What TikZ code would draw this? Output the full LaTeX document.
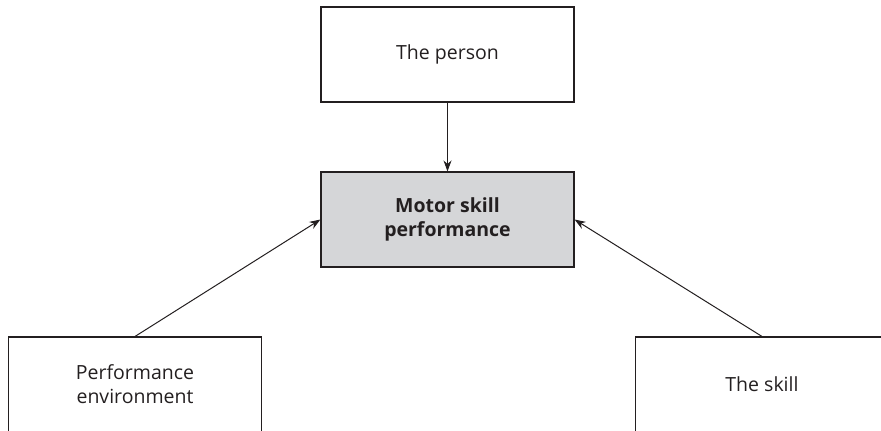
\documentclass[tikz,border=0pt]{standalone}
\usepackage{fontspec}
\setmainfont{Open Sans}
\usetikzlibrary{arrows.meta}
\definecolor{boxgray}{RGB}{213,214,216}
\definecolor{ink}{RGB}{35,31,32}
\begin{document}
\begin{tikzpicture}[x=1pt,y=-1pt,
 box/.style={draw=ink, line width=1.1pt, rectangle, minimum width=253pt, minimum height=95pt, inner sep=0pt, align=center, font=\fontsize{19.5}{24}\selectfont, text=ink},
 link/.style={draw=ink, line width=1pt, -{Stealth[length=11pt,width=8pt]}}]
\clip (0,0) rectangle (881,431);
\node[box] (person) at (447.5,54.5) {The person};
\node[box, fill=boxgray, font=\fontsize{19.5}{24}\selectfont\bfseries] (motor) at (447.5,219.5) {Motor skill\\performance};
\node[box] (env) at (135,384.5) {Performance\\environment};
\node[box] (skill) at (762,384.5) {The skill};
\draw[link] (person) -- (motor);
\draw[link] (env.north) -- (motor.west);
\draw[link] (skill.north) -- (motor.east);
\end{tikzpicture}
\end{document}
